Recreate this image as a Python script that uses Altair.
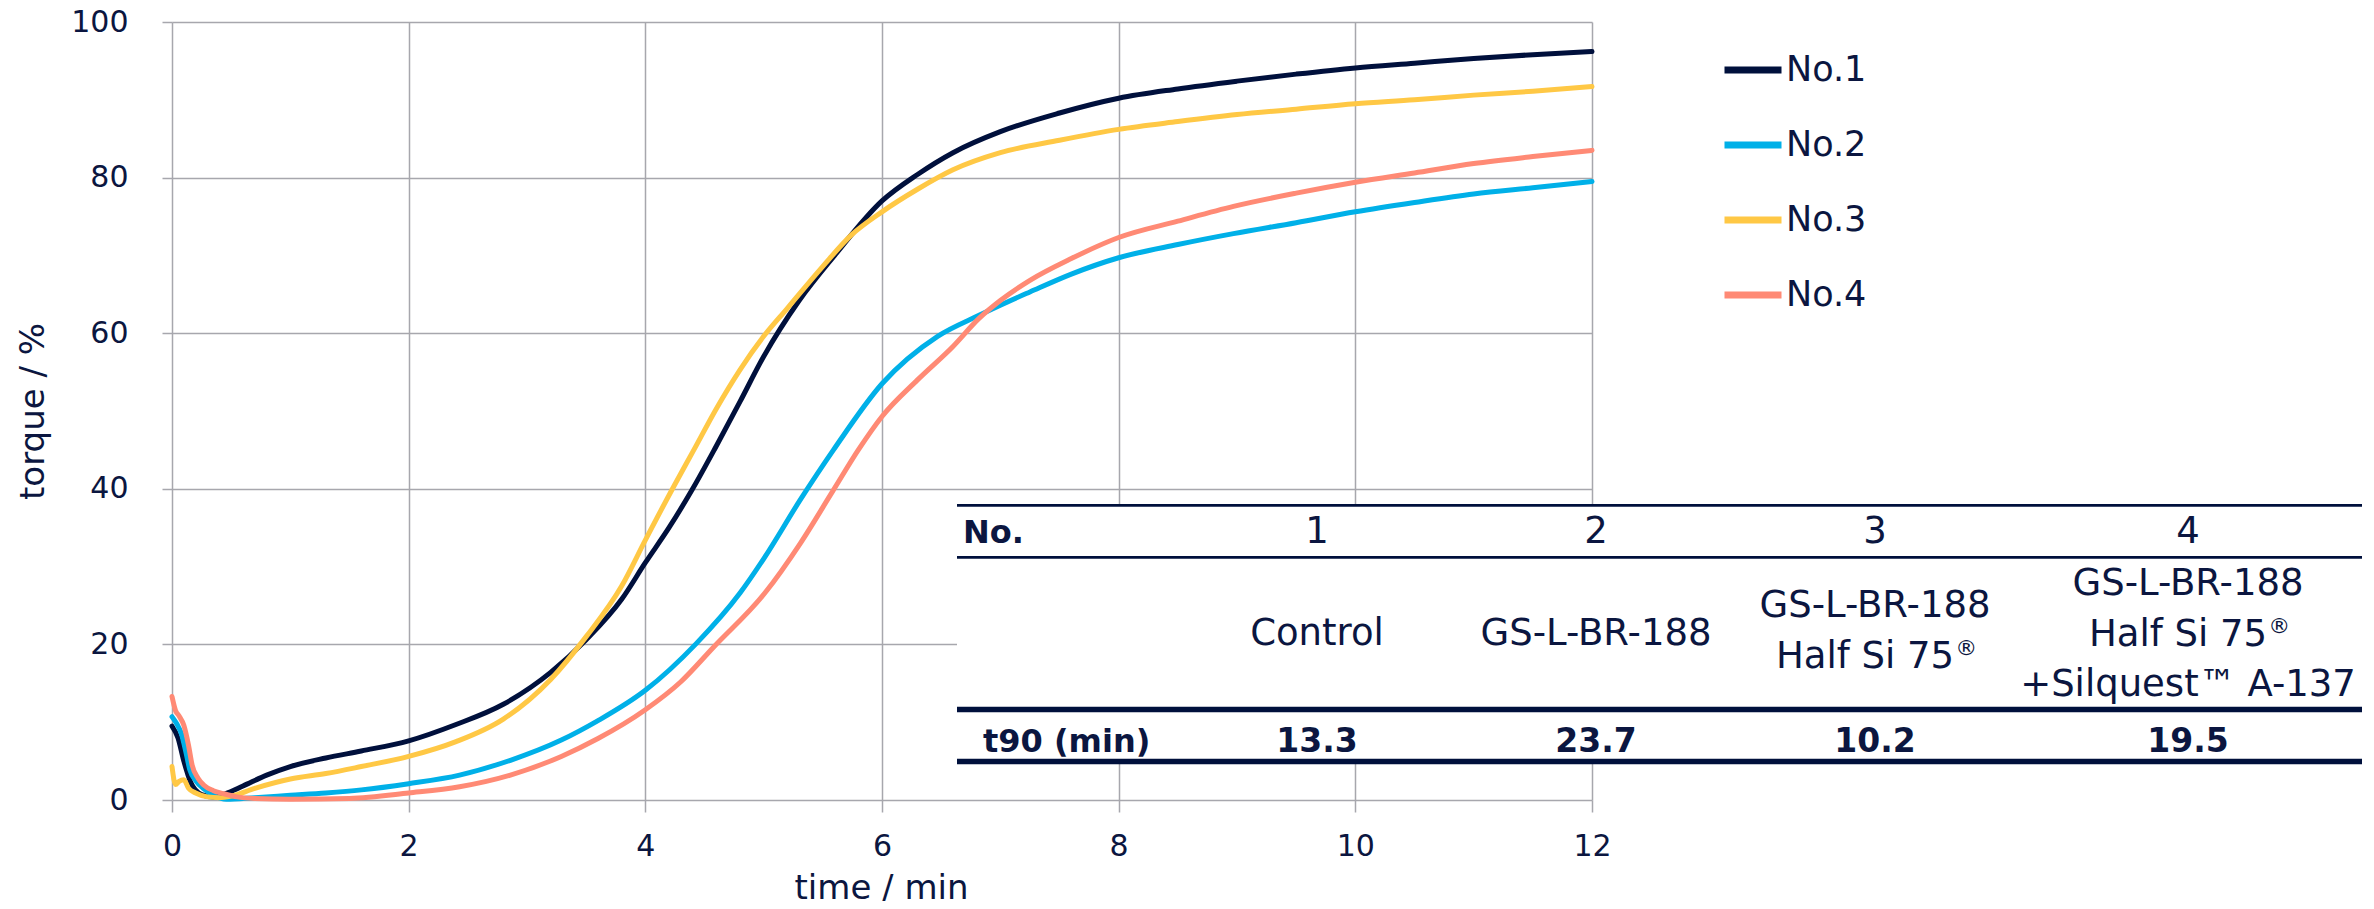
import altair as alt
import pandas as pd

# ---------------- data ----------------
series_names = ["No.1", "No.2", "No.3", "No.4"]

t_no1 = [0, 0.05, 0.1, 0.16, 0.25, 0.35, 0.45, 0.6, 0.8, 1.0, 1.3, 1.6, 2.0, 2.4, 2.8, 3.2, 3.5, 3.8,
         4.0, 4.2, 4.4, 4.6, 4.8, 5.0, 5.3, 5.6, 6.0, 6.3, 6.6, 7.0, 7.5, 8.0, 8.5, 9.0, 9.5, 10, 10.5,
         11, 11.5, 12]
v_no1 = [9.5, 8.0, 5.0, 2.2, 0.7, 0.4, 0.8, 1.8, 3.2, 4.3, 5.4, 6.3, 7.6, 9.7, 12.3, 16.4, 20.6, 25.8,
         30.5, 35.0, 40.0, 45.5, 51.2, 57.0, 64.2, 70.0, 77.0, 80.4, 83.2, 85.9, 88.3, 90.2, 91.4, 92.4,
         93.3, 94.1, 94.7, 95.3, 95.8, 96.2]

t_no2 = [0, 0.04, 0.08, 0.12, 0.15, 0.2, 0.28, 0.36, 0.46, 0.7, 1.0, 1.3, 1.6, 2.0, 2.43, 2.86, 3.29,
         3.6, 4.0, 4.43, 4.8, 5.0, 5.31, 5.59, 6.0, 6.47, 6.82, 7.0, 7.25, 7.6, 8.0, 8.5, 8.97, 9.5, 10,
         10.5, 11, 11.5, 12]
v_no2 = [10.7, 9.8, 8.5, 6.0, 3.9, 2.5, 1.3, 0.5, 0.1, 0.3, 0.6, 0.9, 1.3, 2.1, 3.2, 5.1, 7.7,
         10.2, 14.1, 20.1, 26.6, 31.0, 38.6, 45.0, 53.5, 59.6, 62.3, 63.6, 65.3, 67.6, 69.7, 71.4, 72.8,
         74.2, 75.6, 76.8, 77.9, 78.7, 79.5]

t_no3 = [0, 0.03, 0.06, 0.1, 0.14, 0.2, 0.3, 0.4, 0.5, 0.7, 1.0, 1.3, 1.6, 2.0, 2.4, 2.8, 3.2, 3.5,
         3.8, 4.0, 4.24, 4.41, 4.6, 4.8, 5.0, 5.2, 5.5, 5.74, 6.0, 6.3, 6.6, 7.0, 7.5, 8.0, 8.5, 9.0,
         9.5, 10, 10.5, 11, 11.5, 12]
v_no3 = [4.3, 2.0, 2.4, 2.6, 1.5, 0.9, 0.4, 0.3, 0.5, 1.5, 2.7, 3.4, 4.3, 5.6, 7.5, 10.4, 15.5, 21.0,
         27.5, 33.4, 40.3, 45.0, 50.3, 55.3, 59.6, 63.2, 68.6, 72.6, 75.6, 78.5, 81.0, 83.2, 84.8, 86.2,
         87.2, 88.1, 88.8, 89.5, 90.0, 90.6, 91.1, 91.7]

t_no4 = [0, 0.03, 0.06, 0.1, 0.14, 0.17, 0.22, 0.27, 0.35, 0.44, 0.55, 0.7, 1.0, 1.5, 2.0, 2.43, 2.86,
         3.29, 3.6, 4.0, 4.3, 4.58, 5.01, 5.31, 5.58, 5.8, 6.0, 6.3, 6.6, 6.82, 7.0, 7.25, 7.6, 8.0,
         8.5, 8.97, 9.5, 10, 10.5, 11, 11.5, 12]
v_no4 = [13.3, 11.5, 10.8, 9.6, 7.0, 4.5, 2.8, 1.9, 1.2, 0.8, 0.4, 0.2, 0.1, 0.2, 0.9, 1.7, 3.2,
         5.6, 7.9, 11.6, 15.2, 19.7, 26.6, 33.0, 39.6, 45.0, 49.3, 54.0, 58.3, 61.9, 64.2, 66.8, 69.6,
         72.3, 74.4, 76.3, 78.0, 79.4, 80.6, 81.8, 82.7, 83.5]

x_ticks = [0, 2, 4, 6, 8, 10, 12]
y_ticks = [0, 20, 40, 60, 80, 100]

table_header_label = "No."
table_numbers = ["1", "2", "3", "4"]
table_descriptions = [
    ["Control"],
    ["GS-L-BR-188"],
    ["GS-L-BR-188", "Half Si 75®"],
    ["GS-L-BR-188", "Half Si 75®", "+Silquest™ A-137"],
]
t90_label = "t90 (min)"
t90_values = ["13.3", "23.7", "10.2", "19.5"]

# ---------------- style / layout ----------------
W, H = 1420, 778
FONT = "DejaVu Sans"
TEXT = "#0b1640"
NAVY = "#00103c"
GRID = "#a7a7ad"
series_colors = [NAVY, "#00b0e8", "#ffc845", "#ff8a75"]

TABLE_FS = 37
SUP_FS = 22
# DejaVu Sans advance widths (em) used to place the superscript mark
ADV = {"H": .753, "a": .613, "l": .278, "f": .352, " ": .318, "S": .635, "i": .278,
       "7": .636, "5": .636}

col_x = [1145, 1424, 1703, 2016]          # table column centres (px, plot coords)
row_header_y = 521
desc_lines_y = {1: [623], 2: [595, 646], 3: [573, 624, 674]}
row_t90_y = 730
table_left, table_right = 785, 2190
rules = [(483.3, 2.7), (535.3, 2.7), (687.5, 5.7), (739.5, 5.5)]

curves = pd.concat([
    pd.DataFrame({"t": t, "v": v, "series": name})
    for name, t, v in zip(series_names, [t_no1, t_no2, t_no3, t_no4],
                          [v_no1, v_no2, v_no3, v_no4])
], ignore_index=True)

lines = alt.Chart(curves).mark_line(
    strokeWidth=5, interpolate="monotone", strokeCap="round", strokeJoin="round"
).encode(
    x=alt.X("t:Q", scale=alt.Scale(domain=[0, 12], nice=False),
            axis=alt.Axis(values=x_ticks, title="time / min", domain=False, grid=True,
                          gridColor=GRID, gridWidth=1.5, tickColor=GRID, tickWidth=1.5,
                          tickSize=12, labelFont=FONT, labelFontSize=30, labelColor=TEXT,
                          labelPadding=43, labelBaseline="alphabetic", labelFlush=False,
                          labelOverlap=False, titleFont=FONT, titleFontSize=34,
                          titleFontWeight="normal", titleColor=TEXT, titleX=709, titleY=98,
                          titleAlign="center", titleBaseline="alphabetic")),
    y=alt.Y("v:Q", scale=alt.Scale(domain=[0, 100], nice=False),
            axis=alt.Axis(values=y_ticks, title="torque / %", domain=False, grid=True,
                          gridColor=GRID, gridWidth=1.5, tickColor=GRID, tickWidth=1.5,
                          tickSize=10, labelFont=FONT, labelFontSize=30, labelColor=TEXT,
                          labelPadding=34, labelBaseline="middle", labelFlush=False,
                          labelOverlap=False, titleFont=FONT, titleFontSize=34,
                          titleFontWeight="normal", titleColor=TEXT, titleX=-129, titleY=389,
                          titleAngle=270, titleAlign="center", titleBaseline="alphabetic")),
    color=alt.Color("series:N", scale=alt.Scale(domain=series_names, range=series_colors),
                    legend=alt.Legend(orient="none", legendX=1549, legendY=16, title=None,
                                      symbolType="stroke", symbolSize=3249,
                                      symbolStrokeWidth=7, labelFont=FONT, labelFontSize=35,
                                      labelColor=TEXT, labelOffset=1, rowPadding=25,
                                      padding=0)),
)

# table background (hides grid behind the table)
bg_df = pd.DataFrame({"x": [table_left], "x2": [table_right],
                      "y": [rules[0][0]], "y2": [rules[-1][0]]})
table_bg = alt.Chart(bg_df).mark_rect(color="white").encode(
    x=alt.X("x:Q", scale=None, axis=None), x2="x2:Q",
    y=alt.Y("y:Q", scale=None, axis=None), y2="y2:Q",
)

rule_df = pd.DataFrame({"y": [r[0] for r in rules], "w": [r[1] for r in rules],
                        "x": table_left, "x2": table_right})
table_rules = alt.Chart(rule_df).mark_rule(color=NAVY).encode(
    x=alt.X("x:Q", scale=None, axis=None), x2="x2:Q",
    y=alt.Y("y:Q", scale=None, axis=None),
    strokeWidth=alt.StrokeWidth("w:Q", scale=None, legend=None),
)

center_rows, left_rows, sup_rows = [], [], []
for i, num in enumerate(table_numbers):
    center_rows.append({"text": num, "x": col_x[i], "y": row_header_y})
    desc = table_descriptions[i]
    for line, yy in zip(desc, desc_lines_y[len(desc)]):
        if line.endswith("®"):
            base = line[:-1]
            w_base = sum(ADV.get(c, .6) for c in base) * TABLE_FS
            w_sup = 0.9 * SUP_FS
            left = col_x[i] - (w_base + w_sup) / 2
            left_rows.append({"text": base, "x": left, "y": yy})
            sup_rows.append({"text": "®", "x": left + w_base + 1, "y": yy - 13})
        else:
            center_rows.append({"text": line, "x": col_x[i], "y": yy})

def text_layer(rows, size, align, weight="normal"):
    return alt.Chart(pd.DataFrame(rows)).mark_text(
        font=FONT, fontSize=size, fontWeight=weight, color=TEXT, align=align,
        baseline="alphabetic"
    ).encode(
        x=alt.X("x:Q", scale=None, axis=None), y=alt.Y("y:Q", scale=None, axis=None),
        text="text:N",
    )

normal_text = text_layer(center_rows, TABLE_FS, "center")
normal_left_text = text_layer(left_rows, TABLE_FS, "left")
sup_text = text_layer(sup_rows, SUP_FS, "left")

value_rows = [{"text": v, "x": col_x[i], "y": row_t90_y} for i, v in enumerate(t90_values)]
value_text = text_layer(value_rows, 33, "center", "bold")

label_rows = [{"text": table_header_label, "x": 791, "y": row_header_y},
              {"text": t90_label, "x": 811, "y": row_t90_y}]
label_text = text_layer(label_rows, 32, "left", "bold")

chart = alt.layer(
    table_bg, lines, table_rules, normal_text, normal_left_text, sup_text, value_text, label_text
).resolve_scale(
    x="independent", y="independent"
).properties(
    width=W, height=H,
    autosize=alt.AutoSizeParams(type="none"),
    padding={"left": 164, "top": 14, "right": 770, "bottom": 101},
).configure_view(stroke=None)

chart.save("out.html", embed_options={"renderer": "svg", "actions": False})
